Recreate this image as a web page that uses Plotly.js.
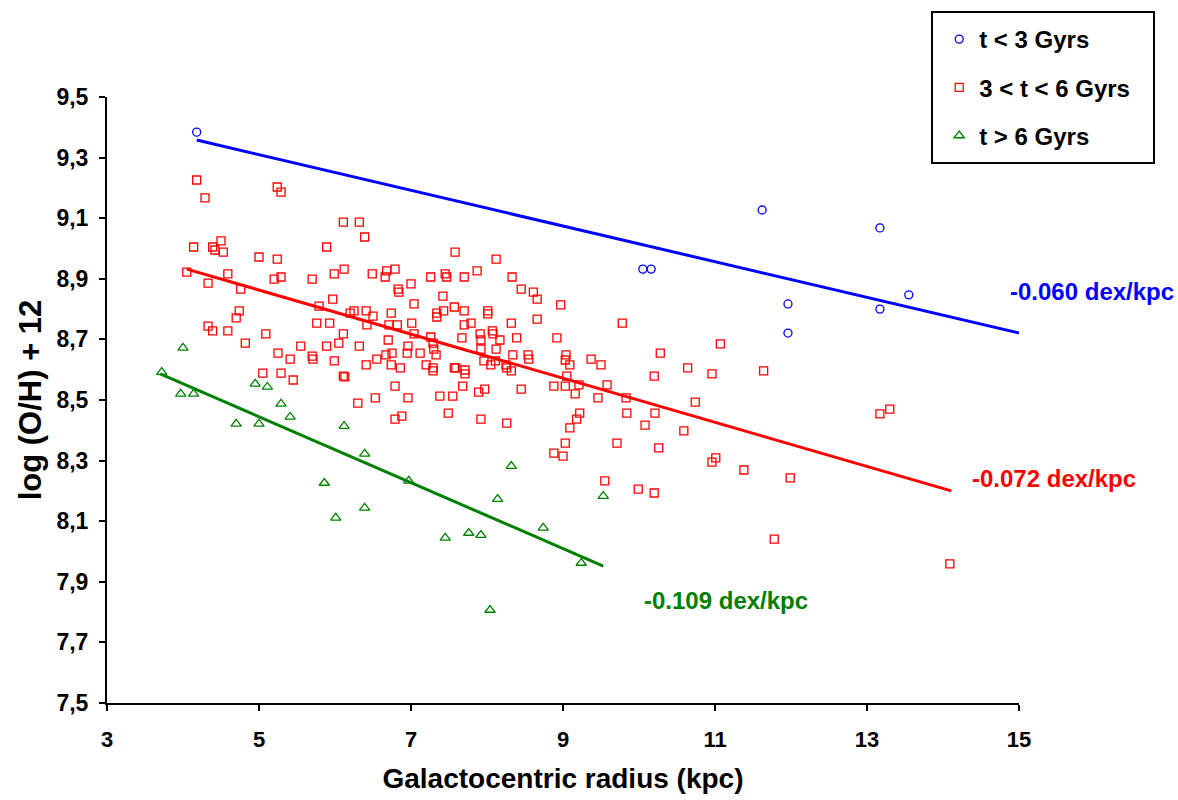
<!DOCTYPE html>
<html>
<head>
<meta charset="utf-8">
<script src="https://cdn.plot.ly/plotly-3.0.1.min.js"></script>
<style>
  html, body { margin: 0; padding: 0; background: #ffffff; }
  #chart { width: 1178px; height: 800px; }
</style>
</head>
<body>
<div id="chart"></div>
<script>
// ---------- data ----------
const seriesNames = ['t < 3 Gyrs', '3 < t < 6 Gyrs', 't > 6 Gyrs'];

// t < 3 Gyrs
const youngR  = [4.18, 11.62, 13.17, 10.05, 10.16, 13.55, 11.96, 11.96, 13.17];
const youngOH = [9.384, 9.127, 9.068, 8.932, 8.932, 8.847, 8.817, 8.721, 8.800];

// 3 < t < 6 Gyrs
const midR = [
  4.18, 4.29, 5.24, 5.29, 6.11, 4.14, 4.39, 4.42, 4.50, 4.53,
  5.00, 5.24, 5.89, 6.12, 4.05, 4.59, 4.33, 4.76, 5.20, 5.29,
  5.70, 5.99, 5.97, 5.79, 4.74, 4.70, 5.76, 5.93, 4.33, 4.39,
  4.59, 5.09, 4.82, 5.25, 5.41, 5.55, 5.70, 5.71, 5.89, 6.05,
  6.11, 5.99, 5.05, 5.29, 5.45, 6.11, 6.13, 6.32, 6.39, 7.58,
  8.12, 6.49, 6.66, 6.68, 6.79, 7.00, 6.83, 6.84, 7.26, 7.45,
  7.47, 7.70, 7.87, 8.33, 8.45, 8.61, 8.66, 8.97, 8.66, 7.42,
  7.57, 7.04, 7.70, 8.01, 8.01, 7.34, 7.43, 7.34, 6.74, 6.50,
  6.41, 6.25, 6.20, 6.42, 6.71, 6.82, 7.01, 7.70, 7.79, 8.32,
  7.04, 6.32, 6.70, 6.96, 7.26, 7.29, 7.30, 7.67, 7.91, 8.07,
  8.08, 8.17, 7.92, 7.92, 8.12, 8.39, 8.92, 8.34, 8.54, 9.04,
  6.75, 6.95, 7.12, 7.33, 6.67, 6.55, 8.55, 9.03, 6.41, 7.20,
  6.74, 6.86, 7.29, 7.29, 7.57, 7.59, 7.71, 7.71, 7.96, 8.05,
  8.11, 8.25, 8.26, 8.32, 9.09, 9.05, 6.79, 6.96, 6.53, 6.30,
  7.38, 7.55, 7.68, 7.89, 7.97, 8.45, 8.88, 9.03, 9.16, 9.22,
  9.18, 9.09, 9.03, 8.88, 9.00, 7.49, 7.92, 8.26, 6.79, 6.88,
  9.78, 11.07, 10.28, 9.37, 9.50, 10.64, 10.96, 10.20, 11.64, 9.21,
  9.58, 9.46, 9.83, 10.74, 9.84, 10.21, 10.08, 10.59, 9.71, 10.26,
  10.96, 11.01, 11.38, 11.99, 9.55, 9.99, 10.20, 13.17, 13.30, 14.09,
  11.78
];
const midOH = [
  9.226, 9.167, 9.203, 9.186, 9.087, 9.005, 9.005, 8.995, 9.025, 8.988,
  8.972, 8.965, 9.005, 8.932, 8.922, 8.916, 8.886, 8.866, 8.899, 8.906,
  8.899, 8.916, 8.833, 8.810, 8.794, 8.771, 8.754, 8.754, 8.744, 8.728,
  8.728, 8.718, 8.688, 8.655, 8.635, 8.678, 8.645, 8.635, 8.678, 8.688,
  8.718, 8.629, 8.589, 8.589, 8.566, 8.579, 8.576, 9.087, 9.038, 8.988,
  8.965, 8.916, 8.906, 8.926, 8.932, 8.883, 8.866, 8.856, 8.906, 8.916,
  8.906, 8.906, 8.926, 8.906, 8.866, 8.856, 8.833, 8.814, 8.767, 8.843,
  8.807, 8.817, 8.794, 8.794, 8.784, 8.787, 8.794, 8.774, 8.787, 8.777,
  8.794, 8.794, 8.787, 8.748, 8.748, 8.748, 8.754, 8.748, 8.754, 8.754,
  8.718, 8.678, 8.698, 8.678, 8.708, 8.688, 8.668, 8.705, 8.718, 8.728,
  8.718, 8.698, 8.698, 8.668, 8.668, 8.705, 8.705, 8.649, 8.649, 8.649,
  8.655, 8.655, 8.655, 8.649, 8.649, 8.635, 8.635, 8.632, 8.616, 8.616,
  8.616, 8.606, 8.606, 8.596, 8.606, 8.606, 8.599, 8.586, 8.629, 8.616,
  8.629, 8.616, 8.606, 8.596, 8.616, 8.579, 8.546, 8.507, 8.507, 8.490,
  8.513, 8.513, 8.546, 8.526, 8.536, 8.536, 8.546, 8.546, 8.520, 8.457,
  8.437, 8.408, 8.358, 8.325, 8.315, 8.457, 8.437, 8.424, 8.437, 8.447,
  8.754, 8.685, 8.655, 8.635, 8.616, 8.606, 8.586, 8.579, 8.596, 8.550,
  8.550, 8.507, 8.507, 8.493, 8.457, 8.457, 8.417, 8.398, 8.358, 8.342,
  8.295, 8.309, 8.269, 8.243, 8.233, 8.206, 8.193, 8.454, 8.470, 7.959,
  8.041
];

// t > 6 Gyrs
const oldR = [
  3.72, 4.00, 3.97, 4.14, 4.95, 5.11, 5.29, 5.41, 4.70, 5.00,
  6.12, 6.39, 5.86, 6.01, 6.39, 6.97, 7.45, 7.76, 7.92, 8.32,
  8.14, 8.74, 9.24, 9.53, 8.04
];
const oldOH = [
  8.592, 8.672, 8.520, 8.520, 8.553, 8.543, 8.487, 8.444, 8.421, 8.421,
  8.414, 8.322, 8.226, 8.111, 8.144, 8.233, 8.045, 8.061, 8.054, 8.282,
  8.173, 8.078, 7.962, 8.183, 7.807
];

// linear fits (end points) and their gradients
const youngFitR = [4.18, 15.0];
const youngFitOH = [9.358, 8.721];
const midFitR = [4.05, 14.11];
const midFitOH = [8.932, 8.200];
const oldFitR = [3.70, 9.53];
const oldFitOH = [8.586, 7.952];
const gradientLabels = ['-0.060 dex/kpc', '-0.072 dex/kpc', '-0.109 dex/kpc'];
const gradientLabelR = [14.86, 14.36, 10.04];
const gradientLabelOH = [8.858, 8.241, 7.838];

// axes
const xTicks = [3, 5, 7, 9, 11, 13, 15];
const yTicks = [7.5, 7.7, 7.9, 8.1, 8.3, 8.5, 8.7, 8.9, 9.1, 9.3, 9.5];

// ---------- styling ----------
const BLUE = '#0000FF', RED = '#FF0000', GREEN = '#008000';
const FONT = 'Liberation Sans, Arial, Helvetica, sans-serif';
const colors = [BLUE, RED, GREEN];

const traces = [
  { x: youngR, y: youngOH, name: seriesNames[0], legendgroup: 'g1', type: 'scatter', mode: 'markers',
    marker: { symbol: 'circle-open', size: 8, color: BLUE, line: { width: 1.3, color: BLUE } } },
  { x: midR, y: midOH, name: seriesNames[1], legendgroup: 'g2', type: 'scatter', mode: 'markers',
    marker: { symbol: 'square-open', size: 8, color: RED, line: { width: 1.3, color: RED } } },
  { x: oldR, y: oldOH, name: seriesNames[2], legendgroup: 'g3', type: 'scatter', mode: 'markers',
    marker: { symbol: 'triangle-up-open', size: 9, color: GREEN, line: { width: 1.3, color: GREEN } } },
  { x: youngFitR, y: youngFitOH, type: 'scatter', mode: 'lines', showlegend: false, hoverinfo: 'skip',
    line: { color: BLUE, width: 3 } },
  { x: midFitR, y: midFitOH, type: 'scatter', mode: 'lines', showlegend: false, hoverinfo: 'skip',
    line: { color: RED, width: 3 } },
  { x: oldFitR, y: oldFitOH, type: 'scatter', mode: 'lines', showlegend: false, hoverinfo: 'skip',
    line: { color: GREEN, width: 3 } }
];

const annotations = gradientLabels.map((t, i) => ({
  x: gradientLabelR[i], y: gradientLabelOH[i], xref: 'x', yref: 'y',
  text: t, showarrow: false, xanchor: 'left', yanchor: 'middle',
  font: { family: FONT, size: 24, color: colors[i], weight: 'bold' }
}));

const layout = {
  width: 1178, height: 800,
  margin: { l: 107, r: 159, t: 97, b: 97 },
  paper_bgcolor: '#ffffff', plot_bgcolor: '#ffffff',
  separators: ',.',
  showlegend: true,
  legend: {
    x: 0.9125, xanchor: 'left', y: 1.132, yanchor: 'top',
    bgcolor: 'rgba(0,0,0,0)', borderwidth: 0,
    font: { family: FONT, size: 24, color: '#000000', weight: 'bold' },
    tracegroupgap: 14, itemwidth: 30
  },
  shapes: [{
    type: 'rect', xref: 'paper', yref: 'paper',
    x0: (932 - 107) / 912, x1: (1154 - 107) / 912,
    y0: (703 - 163) / 606, y1: (703 - 12) / 606,
    line: { color: '#000000', width: 2 }, fillcolor: 'rgba(0,0,0,0)'
  }],
  annotations: annotations,
  xaxis: {
    range: [3, 15], tickvals: xTicks, tickformat: 'd',
    showline: true, linecolor: '#000000', linewidth: 2, mirror: false,
    ticks: 'outside', ticklen: 6, tickwidth: 2, tickcolor: '#000000',
    showgrid: false, zeroline: false, ticklabelstandoff: 10,
    tickfont: { family: FONT, size: 22, color: '#000000', weight: 'bold' },
    title: { text: 'Galactocentric radius (kpc)', standoff: 17,
      font: { family: FONT, size: 28, color: '#000000', weight: 'bold' } }
  },
  yaxis: {
    range: [7.5, 9.5], tickvals: yTicks, tickformat: '.1f',
    showline: true, linecolor: '#000000', linewidth: 2, mirror: false,
    ticks: 'outside', ticklen: 6, tickwidth: 2, tickcolor: '#000000',
    showgrid: false, zeroline: false, ticklabelstandoff: 6,
    tickfont: { family: FONT, size: 23, color: '#000000', weight: 'bold' },
    title: { text: 'log (O/H) + 12', standoff: 6,
      font: { family: FONT, size: 31, color: '#000000', weight: 'bold' } }
  }
};

Plotly.newPlot('chart', traces, layout, { displayModeBar: false, staticPlot: true });
</script>
</body>
</html>
